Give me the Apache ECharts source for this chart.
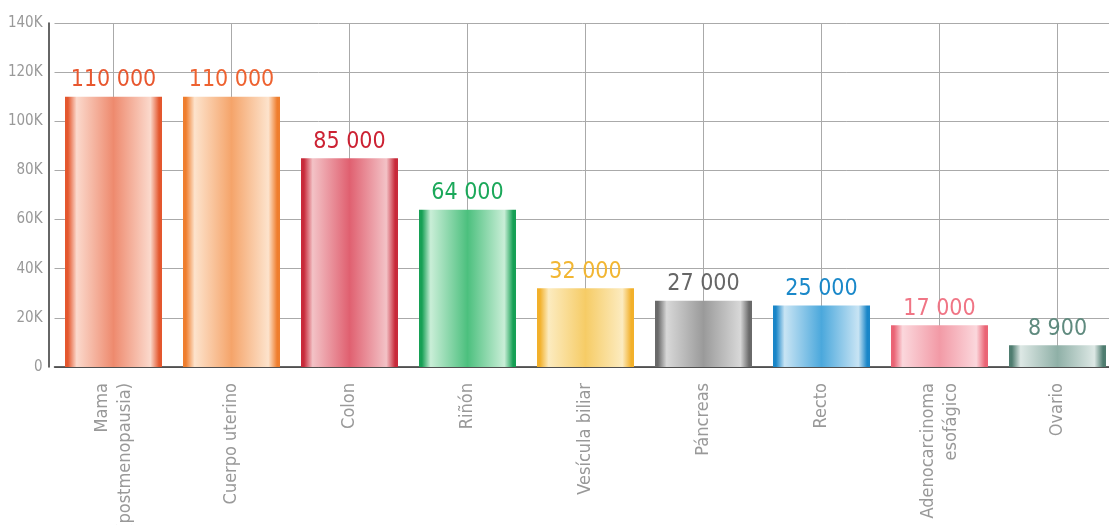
<!DOCTYPE html>
<html>
<head>
<meta charset="utf-8">
<script src="https://cdn.jsdelivr.net/npm/echarts@6/dist/echarts.min.js"></script>
<style>
  html, body { margin: 0; padding: 0; background: #fff; }
  #chart { width: 1109px; height: 525px; }
</style>
</head>
<body>
<div id="chart"></div>
<script>
// datos
var categories = ['Mama\n(postmenopausia)', 'Cuerpo uterino', 'Colon', 'Riñón', 'Vesícula biliar',
  'Páncreas', 'Recto', 'Adenocarcinoma\nesofágico', 'Ovario']
var values = [110000, 110000, 85000, 64000, 32000, 27000, 25000, 17000, 8900]
var valueLabels = ['110 000', '110 000', '85 000', '64 000', '32 000', '27 000', '25 000', '17 000', '8 900']
var yTicks = [0, 20000, 40000, 60000, 80000, 100000, 120000, 140000]

// colores: [borde, claro, medio, texto]
var palette = [
  ['#E4572E', '#FBD9CC', '#EE8A6E', '#E8572F'],
  ['#EF7E2E', '#FDE3CC', '#F5A46A', '#EE6230'],
  ['#C82A3A', '#F3C2C6', '#E06070', '#CC2233'],
  ['#16A055', '#C9EED7', '#4CC07E', '#1BA85A'],
  ['#F2B02A', '#FCEBBF', '#F6CC66', '#F2B632'],
  ['#6A6A6A', '#D8D8D8', '#9A9A9A', '#666666'],
  ['#1A86C8', '#C8E4F4', '#4BA8DC', '#1A88C9'],
  ['#EA6475', '#FBD7DC', '#F29AA6', '#F07585'],
  ['#4F7D70', '#DDE8E5', '#8FB0A7', '#5F8A7E']
]

var FONT = '"DejaVu Sans Condensed", "Liberation Sans Narrow", sans-serif'

var chart = echarts.init(document.getElementById('chart'))

var barData = values.map(function (v, i) {
  var p = palette[i]
  return {
    value: v,
    itemStyle: {
      color: new echarts.graphic.LinearGradient(0, 0, 1, 0, [
        { offset: 0, color: p[0] },
        { offset: 0.03, color: p[0] },
        { offset: 0.12, color: p[1] },
        { offset: 0.5, color: p[2] },
        { offset: 0.88, color: p[1] },
        { offset: 0.97, color: p[0] },
        { offset: 1, color: p[0] }
      ])
    },
    label: { color: p[3] }
  }
})

chart.setOption({
  animation: false,
  grid: { left: 54.5, right: -7.5, top: 23, bottom: 158, containLabel: false, outerBoundsMode: 'none' },
  xAxis: {
    type: 'category',
    data: categories,
    axisLine: { show: true, lineStyle: { color: '#333', width: 1.5 } },
    axisTick: { show: false },
    splitLine: { show: true, alignWithLabel: true, lineStyle: { color: '#aaa', width: 1 } },
    axisLabel: {
      rotate: 90,
      margin: 16,
      interval: 0,
      color: '#999',
      fontFamily: FONT,
      fontSize: 18,
      lineHeight: 23,
      align: 'right'
    }
  },
  yAxis: {
    type: 'value',
    min: yTicks[0],
    max: yTicks[yTicks.length - 1],
    interval: yTicks[1] - yTicks[0],
    offset: 6,
    axisLine: { show: true, lineStyle: { color: '#333', width: 1.5 } },
    axisTick: { show: false },
    splitLine: { show: true, lineStyle: { color: '#aaa', width: 1 } },
    axisLabel: {
      margin: 6,
      color: '#999',
      fontFamily: FONT,
      fontSize: 15,
      formatter: function (v) { return v === 0 ? '0' : (v / 1000) + 'K' }
    }
  },
  series: [{
    type: 'bar',
    data: barData,
    barWidth: 97,
    label: {
      show: true,
      position: 'top',
      distance: 5,
      fontFamily: FONT,
      fontSize: 23,
      formatter: function (p) { return valueLabels[p.dataIndex] }
    }
  }]
})
</script>
</body>
</html>
